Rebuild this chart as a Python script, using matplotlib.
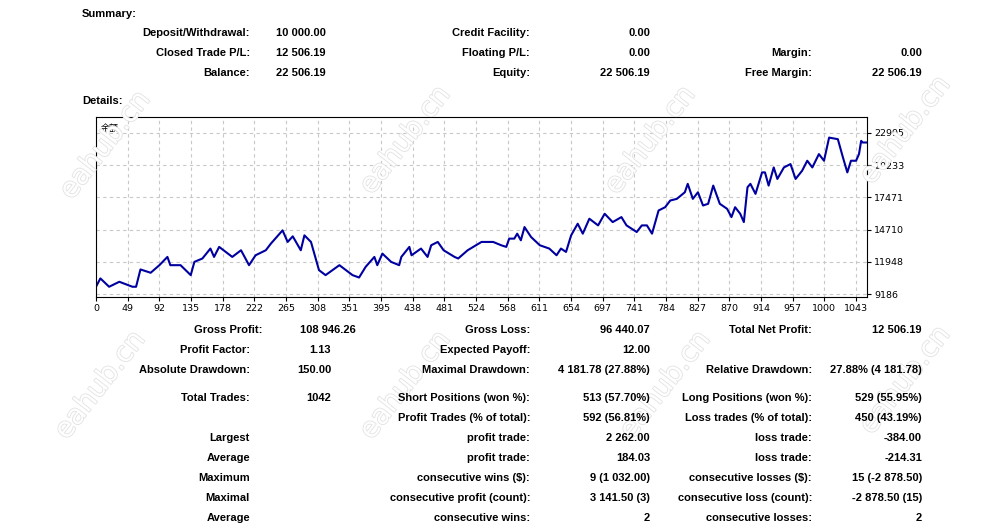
import matplotlib.pyplot as plt
import matplotlib.patheffects as pe

# balance curve (trade number, balance)
trade_no = [0, 6, 18, 32, 50, 55, 61, 75, 87, 98, 102, 116, 130, 135, 146, 157, 162, 169,
            187, 199, 210, 219, 233, 240, 256, 263, 270, 281, 286, 295, 306, 315, 334, 352,
            361, 370, 382, 386, 393, 405, 416, 419, 430, 433, 446, 455, 460, 469, 477, 492,
            497, 510, 529, 545, 556, 563, 567, 574, 578, 583, 588, 597, 609, 622, 632, 638,
            645, 652, 661, 668, 677, 689, 698, 709, 721, 728, 742, 749, 756, 763, 772, 781,
            788, 797, 808, 812, 819, 826, 833, 840, 847, 856, 866, 872, 877, 884, 889, 894,
            898, 905, 914, 918, 923, 930, 935, 944, 953, 960, 969, 976, 983, 992, 999, 1006,
            1018, 1025, 1031, 1036, 1043, 1047, 1050, 1052, 1058]
balance = [9808, 10524, 9808, 10235, 9808, 9808, 11292, 11008, 11658, 12366, 11658, 11658,
           10805, 11940, 12230, 13082, 12366, 13225, 12366, 12937, 11658, 12508, 12937, 13508,
           14642, 13650, 14130, 12937, 14216, 13650, 11232, 10805, 11658, 10805, 10600, 11513,
           12366, 11658, 12650, 11940, 11658, 12366, 13225, 12508, 13082, 12366, 13366, 13650,
           12937, 12366, 12230, 12937, 13650, 13650, 13366, 13225, 13934, 13934, 14358, 13790,
           14926, 14074, 13366, 13082, 12508, 13082, 12792, 14216, 15213, 14358, 15640, 15068,
           16066, 15350, 15780, 15068, 14500, 15068, 15068, 14358, 16347, 16628, 17200, 17342,
           17907, 18630, 17342, 17907, 16773, 16920, 18480, 16920, 16490, 15780, 16628, 16066,
           15350, 18338, 18630, 17770, 19612, 19612, 18480, 20037, 19050, 20037, 20325, 19050,
           19757, 20610, 20037, 21180, 20610, 22595, 22458, 20890, 19612, 20610, 20610, 21180,
           22316, 22174, 22174]

x_labels = ["0", "49", "92", "135", "178", "222", "265", "308", "351", "395", "438", "481",
            "524", "568", "611", "654", "697", "741", "784", "827", "870", "914", "957",
            "1000", "1043"]
y_ticks = [9186, 11948, 14710, 17471, 20233, 22995]

summary_rows = [
    ("Deposit/Withdrawal:", "10 000.00", "Credit Facility:", "0.00", "", ""),
    ("Closed Trade P/L:", "12 506.19", "Floating P/L:", "0.00", "Margin:", "0.00"),
    ("Balance:", "22 506.19", "Equity:", "22 506.19", "Free Margin:", "22 506.19"),
]

details_rows = [
    (330, "Gross Profit:", "108 946.26", "Gross Loss:", "96 440.07", "Total Net Profit:", "12 506.19"),
    (350, "Profit Factor:", "1.13", "Expected Payoff:", "12.00", "", ""),
    (370, "Absolute Drawdown:", "150.00", "Maximal Drawdown:", "4 181.78 (27.88%)",
     "Relative Drawdown:", "27.88% (4 181.78)"),
    (398, "Total Trades:", "1042", "Short Positions (won %):", "513 (57.70%)",
     "Long Positions (won %):", "529 (55.95%)"),
    (418, "", "", "Profit Trades (% of total):", "592 (56.81%)",
     "Loss trades (% of total):", "450 (43.19%)"),
    (438, "Largest", "", "profit trade:", "2 262.00", "loss trade:", "-384.00"),
    (458, "Average", "", "profit trade:", "184.03", "loss trade:", "-214.31"),
    (478, "Maximum", "", "consecutive wins ($):", "9 (1 032.00)",
     "consecutive losses ($):", "15 (-2 878.50)"),
    (498, "Maximal", "", "consecutive profit (count):", "3 141.50 (3)",
     "consecutive loss (count):", "-2 878.50 (15)"),
    (518, "Average", "", "consecutive wins:", "2", "consecutive losses:", "2"),
]

W, H = 1003, 529
fig = plt.figure(figsize=(W / 100, H / 100), dpi=100)
font = dict(family="Liberation Sans", fontsize=8, color="black", va="center",
            weight="bold")


def put(x, y, s, ha="left"):
    fig.text(x / W, 1 - y / H, s, ha=ha, **font)


# watermarks (behind everything)
for wx, wy in [(105, 145), (405, 140), (650, 140), (905, 130),
               (100, 385), (405, 385), (665, 385), (905, 380)]:
    fig.text(wx / W, 1 - wy / H, "eahub.cn", fontsize=20, rotation=52,
             ha="center", va="center", color="white", zorder=0,
             family="DejaVu Sans",
             path_effects=[pe.withStroke(linewidth=1.2, foreground="#e2e2e2")])

# summary block
put(82, 14, "Summary:")
for i, (l1, v1, l2, v2, l3, v3) in enumerate(summary_rows):
    y = 33 + 20 * i
    put(250, y, l1, ha="right")
    put(276, y, v1)
    put(530, y, l2, ha="right")
    put(650, y, v2, ha="right")
    if l3:
        put(812, y, l3, ha="right")
        put(922, y, v3, ha="right")

put(82, 101, "Details:")

# balance chart
ax = fig.add_axes([96 / W, 1 - 297 / H, (867 - 96) / W, (297 - 117) / H])
ax.patch.set_alpha(0)
ax.plot(trade_no, balance, color="#0000a0", lw=1.5)
ax.set_xlim(0, 1058)
ax.set_ylim(8930, 24360)
step = 1043 / 24
ax.set_xticks([i * step for i in range(len(x_labels))])
ax.set_xticklabels(x_labels)
ax.set_yticks(y_ticks)
ax.yaxis.tick_right()
ax.tick_params(labelsize=6.8, length=3, pad=2)
ax.grid(True, color="#c8c8c8", ls=(0, (3, 3)), lw=0.8)
ax.text(0.006, 0.96, "余额", transform=ax.transAxes, fontsize=6.5, va="top",
        family=["Noto Sans CJK SC", "DejaVu Sans"])

# lower statistics block
for y, l1, v1, l2, v2, l3, v3 in details_rows:
    r1 = 262 if l1 == "Gross Profit:" else 250
    rv = 356 if l1 == "Gross Profit:" else 331
    put(r1, y, l1, ha="right")
    if v1:
        put(rv, y, v1, ha="right")
    put(530, y, l2, ha="right")
    put(650, y, v2, ha="right")
    if l3:
        put(812, y, l3, ha="right")
        put(922, y, v3, ha="right")

fig.savefig("out.png", dpi=100)
